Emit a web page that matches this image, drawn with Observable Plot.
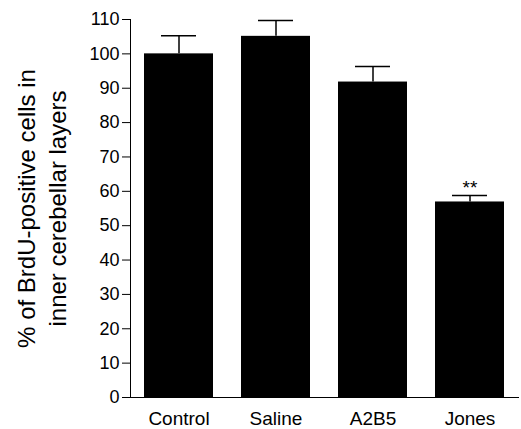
<!DOCTYPE html>
<html>
<head>
<meta charset="utf-8">
<script src="https://cdn.jsdelivr.net/npm/d3@7"></script>
<script src="https://cdn.jsdelivr.net/npm/@observablehq/plot@0.6"></script>
<style>
  html, body { margin: 0; padding: 0; background: #fff; }
  #chart svg { display: block; overflow: visible; }
</style>
</head>
<body>
<div id="chart"></div>
<script>
const groups = ["Control", "Saline", "A2B5", "Jones"];
const means = [100, 105.1, 91.8, 56.9];
const upperErr = [105.3, 109.7, 96.3, 58.8];
const marks = ["", "", "", "**"];
const yTicks = [0, 10, 20, 30, 40, 50, 60, 70, 80, 90, 100, 110];
const yLabel = "% of BrdU-positive cells in\ninner cerebellar layers";

const data = groups.map((g, i) => ({group: g, mean: means[i], err: upperErr[i], sig: marks[i]}));

const W = 521, ML = 130, MR = 2;

const chart = Plot.plot({
  width: W,
  height: 429,
  marginLeft: ML,
  marginRight: MR,
  marginTop: 19,
  marginBottom: 32,
  style: {fontFamily: "'Liberation Sans', Arial, sans-serif", color: "#000", background: "#fff"},
  x: {domain: groups, paddingInner: 0.286, paddingOuter: 0.13, label: null},
  y: {domain: [0, 110], label: null},
  marks: [
    Plot.barY(data, {x: "group", y: "mean", fill: "#000"}),
    Plot.ruleX(data, {x: "group", y1: "mean", y2: "err", stroke: "#000", strokeWidth: 1.5}),
    Plot.tickY(data, {x: "group", y: "err", stroke: "#000", strokeWidth: 1.5, insetLeft: 17, insetRight: 17}),
    Plot.text(data, {x: "group", y: "err", text: "sig", fontSize: 19, lineAnchor: "bottom", dy: -1, fill: "#000"}),
    Plot.ruleY([0], {stroke: "#000", strokeWidth: 1}),
    Plot.axisY({ticks: yTicks, tickSize: 8, tickPadding: 3, fontSize: 18, tickFormat: d => d, label: null}),
    Plot.ruleX([0], {x: null, y1: 0, y2: 110, dx: -(W - MR - ML) / 2, stroke: "#000", strokeWidth: 1}),
    Plot.axisX({tickSize: 0, tickPadding: 14, fontSize: 19, label: null}),
    Plot.text([yLabel], {frameAnchor: "left", dx: -90, rotate: -90, textAnchor: "middle", lineAnchor: "middle", lineHeight: 1.3, fontSize: 24, fill: "#000"})
  ]
});
document.getElementById("chart").appendChild(chart);
</script>
</body>
</html>
